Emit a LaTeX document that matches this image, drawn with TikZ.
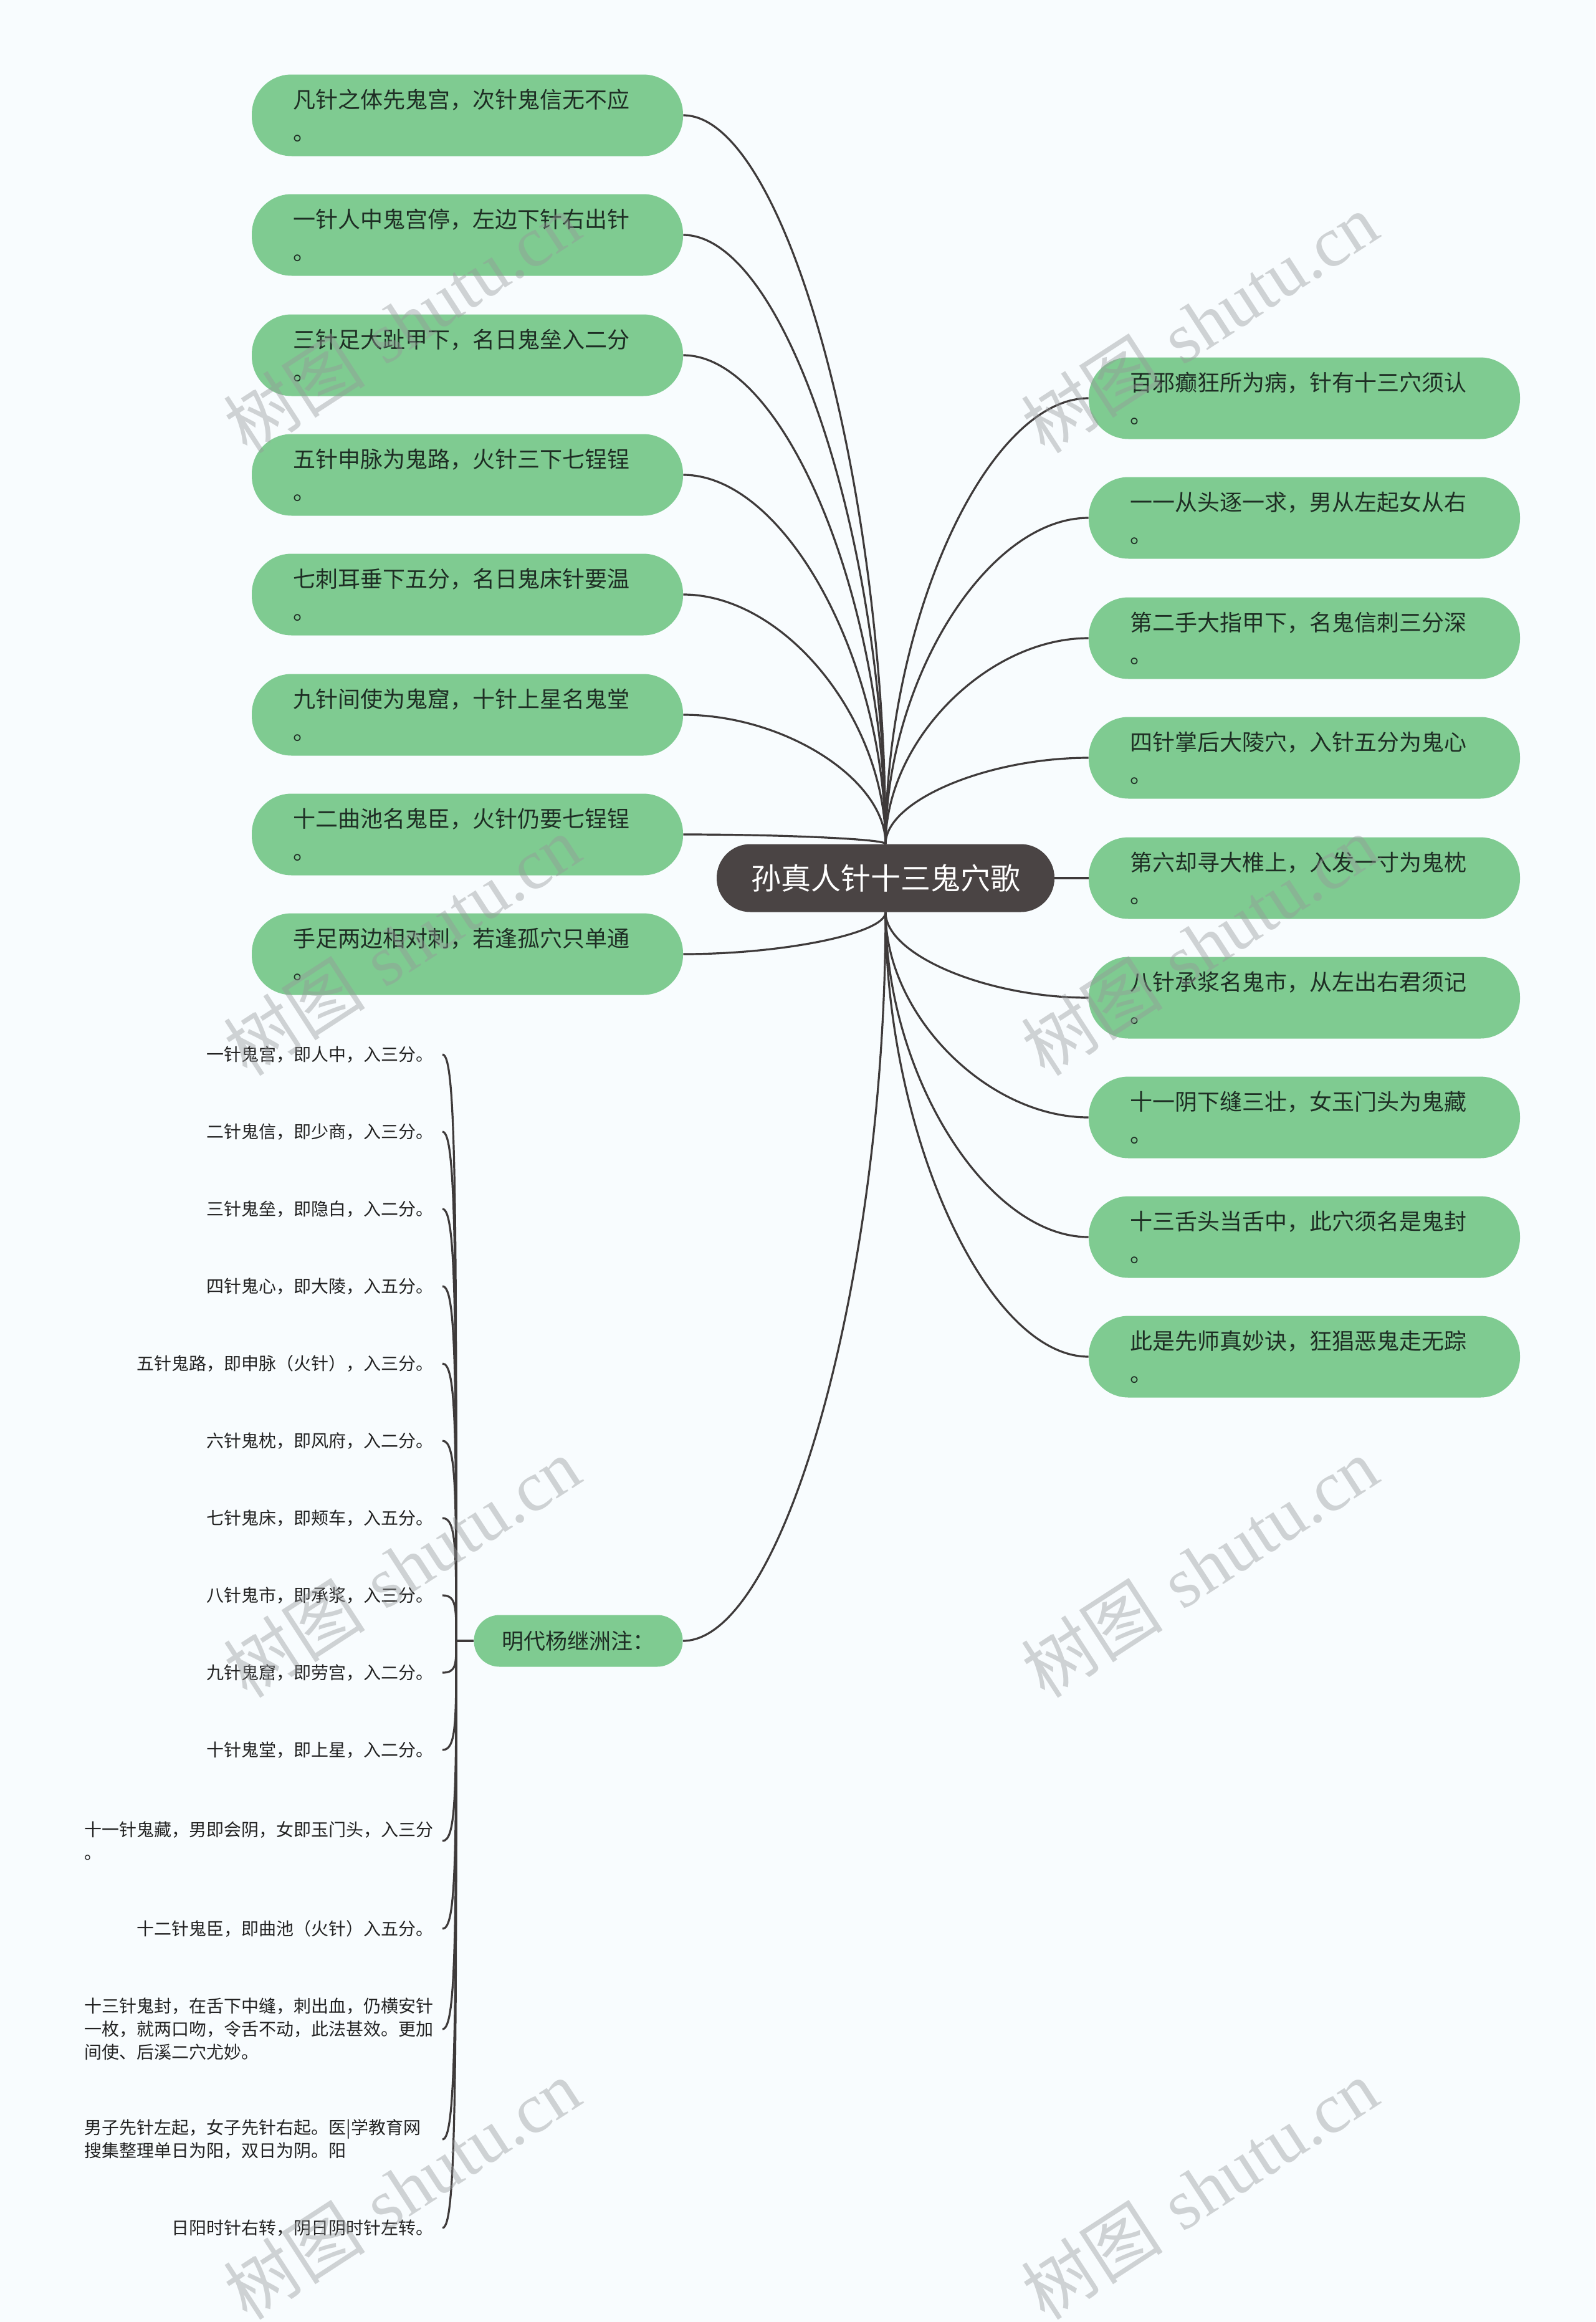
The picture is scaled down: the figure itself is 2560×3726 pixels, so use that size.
\documentclass[tikz,border=0pt]{standalone}
\usepackage{fontspec}
\usetikzlibrary{calc}
\newfontfamily\cjk{Noto Sans CJK SC}
\newfontfamily\wmserif{Liberation Serif}
\definecolor{bgc}{RGB}{248,252,254}
\definecolor{gfill}{RGB}{127,203,145}
\definecolor{gtext}{RGB}{30,46,36}
\definecolor{cfill}{RGB}{74,68,68}
\definecolor{linec}{RGB}{62,58,58}
\definecolor{leaftext}{RGB}{34,34,34}
\definecolor{wmc}{RGB}{150,152,154}
\pgfdeclarelayer{bg}
\pgfsetlayers{bg,main}
\newcommand\mmlink[2]{\draw[conn] let \p1=(#1), \p2=(#2) in (\p1) .. controls ({0.5*\x1+0.5*\x2},\y1) and (\x2,{0.5*\y1+0.5*\y2}) .. (\p2);}
\newcommand\brlink[2]{\draw[conn] let \p1=(#1), \p2=(#2) in (\p1) .. controls (\x1,{\y1+0.75*(\y2-\y1)}) and (\x1,\y2) .. (\p2);}
\begin{document}
\begin{tikzpicture}[x=0.5pt,y=-0.5pt,
  conn/.style={draw=linec, line width=1.6pt},
  gbox/.style={fill=gfill, rounded corners=32pt, minimum width=346pt, minimum height=65.5pt,
     text width=280pt, inner xsep=33pt, inner ysep=0pt, align=left, text=gtext,
     font=\cjk\fontsize{18pt}{26pt}\selectfont},
  cbox/.style={fill=cfill, rounded corners=27pt, minimum width=271pt, minimum height=54.5pt,
     text=white, font=\cjk\fontsize{24pt}{28pt}\selectfont},
  mbox/.style={fill=gfill, rounded corners=20.5pt, minimum width=167.5pt, minimum height=41.5pt,
     text=gtext, font=\cjk\fontsize{17.5pt}{20pt}\selectfont},
  leaf/.style={anchor=east, inner xsep=7pt, inner ysep=0pt, align=right, text=leaftext,
     font=\cjk\fontsize{14pt}{18.5pt}\selectfont},
  leafm/.style={leaf, text width=280pt, align=left},
  wm/.style={rotate=33, text=wmc, opacity=0.42, inner sep=0pt, font=\fontsize{57pt}{57pt}\selectfont}]
\begin{pgfonlayer}{bg}
\fill[bgc] (0,0) rectangle (2560,3726);
\end{pgfonlayer}
\useasboundingbox (0,0) rectangle (2560,3726);

% central node
\node[cbox] (C) at (1421,1409) {孙真人针十三鬼穴歌};

% left nodes
\node[gbox] (L1) at (750,185) {凡针之体先鬼宫，次针鬼信无不应\\。};
\node[gbox] (L2) at (750,377) {一针人中鬼宫停，左边下针右出针\\。};
\node[gbox] (L3) at (750,570) {三针足大趾甲下，名日鬼垒入二分\\。};
\node[gbox] (L4) at (750,762) {五针申脉为鬼路，火针三下七锃锃\\。};
\node[gbox] (L5) at (750,954) {七刺耳垂下五分，名日鬼床针要温\\。};
\node[gbox] (L6) at (750,1147) {九针间使为鬼窟，十针上星名鬼堂\\。};
\node[gbox] (L7) at (750,1339) {十二曲池名鬼臣，火针仍要七锃锃\\。};
\node[gbox] (L8) at (750,1531) {手足两边相对刺，若逢孤穴只单通\\。};

% right nodes
\node[gbox] (R1) at (2093,639) {百邪癫狂所为病，针有十三穴须认\\。};
\node[gbox] (R2) at (2093,831) {一一从头逐一求，男从左起女从右\\。};
\node[gbox] (R3) at (2093,1024) {第二手大指甲下，名鬼信刺三分深\\。};
\node[gbox] (R4) at (2093,1216) {四针掌后大陵穴，入针五分为鬼心\\。};
\node[gbox] (R5) at (2093,1409) {第六却寻大椎上，入发一寸为鬼枕\\。};
\node[gbox] (R6) at (2093,1601) {八针承浆名鬼市，从左出右君须记\\。};
\node[gbox] (R7) at (2093,1793) {十一阴下缝三壮，女玉门头为鬼藏\\。};
\node[gbox] (R8) at (2093,1985) {十三舌头当舌中，此穴须名是鬼封\\。};
\node[gbox] (R9) at (2093,2177) {此是先师真妙诀，狂猖恶鬼走无踪\\。};

% annotation node
\node[mbox] (M) at (928,2633) {明代杨继洲注：};
\coordinate (T) at ([xshift=-14pt]M.west);

% leaves
\node[leaf] (A1) at (710,1692) {一针鬼宫，即人中，入三分。};
\node[leaf] (A2) at (710,1816) {二针鬼信，即少商，入三分。};
\node[leaf] (A3) at (710,1940) {三针鬼垒，即隐白，入二分。};
\node[leaf] (A4) at (710,2064) {四针鬼心，即大陵，入五分。};
\node[leaf] (A5) at (710,2188) {五针鬼路，即申脉（火针），入三分。};
\node[leaf] (A6) at (710,2312) {六针鬼枕，即风府，入二分。};
\node[leaf] (A7) at (710,2436) {七针鬼床，即颊车，入五分。};
\node[leaf] (A8) at (710,2560) {八针鬼市，即承浆，入三分。};
\node[leaf] (A9) at (710,2684) {九针鬼窟，即劳宫，入二分。};
\node[leaf] (A10) at (710,2808) {十针鬼堂，即上星，入二分。};
\node[leafm] (A11) at (710,2954) {十一针鬼藏，男即会阴，女即玉门头，入三分\\。};
\node[leaf] (A12) at (710,3095) {十二针鬼臣，即曲池（火针）入五分。};
\node[leafm] (A13) at (710,3256) {十三针鬼封，在舌下中缝，刺出血，仍横安针\\一枚，就两口吻，令舌不动，此法甚效。更加\\间使、后溪二穴尤妙。};
\node[leafm] (A14) at (710,3433) {男子先针左起，女子先针右起。医|学教育网\\搜集整理单日为阳，双日为阴。阳};
\node[leaf] (A15) at (710,3575) {日阳时针右转，阴日阴时针左转。};

% connectors
\begin{pgfonlayer}{bg}
\mmlink{L1.east}{C.north}
\mmlink{L2.east}{C.north}
\mmlink{L3.east}{C.north}
\mmlink{L4.east}{C.north}
\mmlink{L5.east}{C.north}
\mmlink{L6.east}{C.north}
\mmlink{L7.east}{C.north}
\mmlink{L8.east}{C.south}
\mmlink{R1.west}{C.north}
\mmlink{R2.west}{C.north}
\mmlink{R3.west}{C.north}
\mmlink{R4.west}{C.north}
\draw[conn] (C.east) -- (R5.west);
\mmlink{R6.west}{C.south}
\mmlink{R7.west}{C.south}
\mmlink{R8.west}{C.south}
\mmlink{R9.west}{C.south}
\mmlink{M.east}{C.south}
\draw[conn] (M.west) -- (T);
\foreach \lf in {A1,A2,A3,A4,A5,A6,A7,A8,A9,A10,A11,A12,A13,A14,A15}{\brlink{T}{\lf.east}}
\end{pgfonlayer}

% watermarks
\foreach \wx in {645,1925}{
  \foreach \wy in {518,1517,2515,3513}{
    \node[wm] at (\wx,\wy) {{\cjk 树图} {\wmserif shutu.cn}};
  }
}
\end{tikzpicture}
\end{document}
